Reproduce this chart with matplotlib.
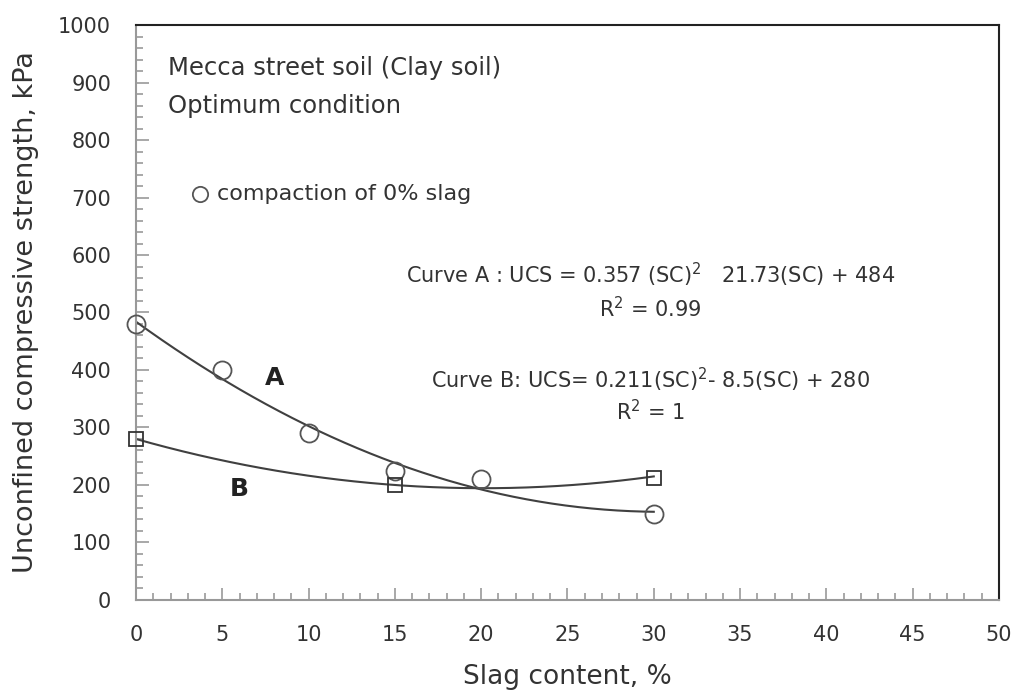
import numpy as np
from matplotlib import pyplot as plt
from matplotlib.ticker import MultipleLocator

plt.rcParams['font.family'] = ['DejaVu Sans']

# measured points
slag_a = [0, 5, 10, 15, 20, 30]
ucs_a = [480, 400, 290, 225, 210, 150]
slag_b = [0, 15, 30]
ucs_b = [280, 200, 213]

# fitted trend lines (from the equations in the chart)
coef_a = [0.357, -21.73, 484]
coef_b = [0.211, -8.5, 280]

x_ticks = [0, 5, 10, 15, 20, 25, 30, 35, 40, 45, 50]
y_ticks = [0, 100, 200, 300, 400, 500, 600, 700, 800, 900, 1000]

fig = plt.figure(figsize=(10.18, 6.97), dpi=100)
ax = fig.add_axes([0.1336, 0.1392, 0.8477, 0.8249])

xs = np.linspace(0, 30, 200)
ax.plot(xs, np.polyval(coef_a, xs), color='#404040', lw=1.5, zorder=2)
ax.plot(xs, np.polyval(coef_b, xs), color='#404040', lw=1.5, zorder=2)

ax.plot(slag_a, ucs_a, 'o', ms=13, mfc='none', mec='#555555', mew=1.3, zorder=3, clip_on=False)
ax.plot(slag_b, ucs_b, 's', ms=10, mfc='none', mec='#333333', mew=1.3, zorder=3, clip_on=False)

ax.set_xlim(0, 50)
ax.set_ylim(0, 1000)
ax.set_xticks(x_ticks)
ax.set_yticks(y_ticks)
ax.xaxis.set_minor_locator(MultipleLocator(1))
ax.yaxis.set_minor_locator(MultipleLocator(20))
ax.tick_params(axis='both', which='major', direction='in', length=9, width=1.2,
               color='#999999', labelsize=15, labelcolor='#333333')
ax.tick_params(axis='both', which='minor', direction='in', length=5, width=1.2, color='#999999')
ax.tick_params(axis='x', which='major', pad=18)
ax.tick_params(axis='y', which='major', pad=18)

for s in ['left', 'bottom']:
    ax.spines[s].set_color('#999999')
    ax.spines[s].set_linewidth(1.5)
for s in ['top', 'right']:
    ax.spines[s].set_color('#222222')
    ax.spines[s].set_linewidth(1.5)

ax.set_xlabel('Slag content, %', fontsize=19, color='#333333', labelpad=14)
ax.set_ylabel('Unconfined compressive strength, kPa', fontsize=19.5, color='#333333', labelpad=14)

ax.text(1.85, 925, 'Mecca street soil (Clay soil)', fontsize=17.5, color='#333333', va='center')
ax.text(1.85, 859, 'Optimum condition', fontsize=17.5, color='#333333', va='center')

ax.plot([3.7], [706], 'o', ms=11, mfc='none', mec='#555555', mew=1.3)
ax.text(4.7, 706, 'compaction of 0% slag', fontsize=16, color='#333333', va='center')

ax.text(29.8, 565, 'Curve A : UCS = 0.357 (SC)$^2$   21.73(SC) + 484', fontsize=15,
        color='#333333', ha='center', va='center')
ax.text(29.8, 506, 'R$^2$ = 0.99', fontsize=15, color='#333333', ha='center', va='center')
ax.text(29.8, 383, 'Curve B: UCS= 0.211(SC)$^2$- 8.5(SC) + 280', fontsize=15,
        color='#333333', ha='center', va='center')
ax.text(29.8, 328, 'R$^2$ = 1', fontsize=15, color='#333333', ha='center', va='center')

ax.text(8.0, 386, 'A', fontsize=18, fontweight='bold', color='#222222', ha='center', va='center')
ax.text(6.0, 193, 'B', fontsize=18, fontweight='bold', color='#222222', ha='center', va='center')

fig.savefig('out.png', dpi=100)
